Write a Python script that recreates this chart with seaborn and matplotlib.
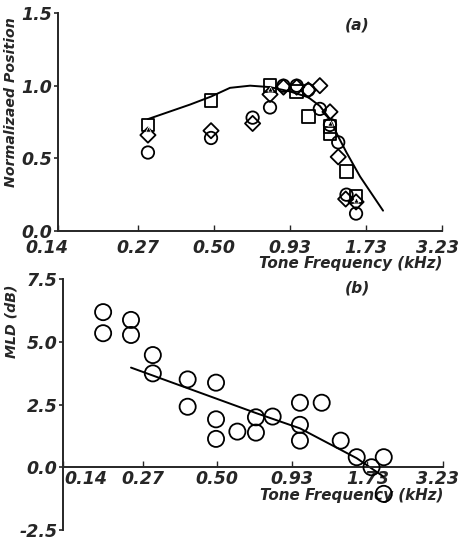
import os
import pandas as pd
import numpy as np
import seaborn as sns
import matplotlib
import matplotlib.pyplot as plt
from matplotlib import transforms
from matplotlib.font_manager import FontProperties

# panel (a) - normalized position vs tone frequency
circle_freq = [0.292, 0.489, 0.687, 0.792, 0.884, 0.985, 1.083, 1.19, 1.293, 1.383, 1.48, 1.60]
circle_pos = [0.54, 0.64, 0.78, 0.85, 1.00, 1.00, 0.97, 0.84, 0.73, 0.61, 0.25, 0.12]
square_freq = [0.292, 0.489, 0.792, 0.985, 1.083, 1.293, 1.293, 1.48, 1.60]
square_pos = [0.73, 0.90, 1.00, 0.96, 0.79, 0.72, 0.67, 0.41, 0.24]
diamond_freq = [0.292, 0.489, 0.687, 0.792, 0.884, 0.985, 1.083, 1.19, 1.293, 1.383, 1.47, 1.60]
diamond_pos = [0.66, 0.69, 0.74, 0.94, 0.99, 0.99, 0.97, 1.00, 0.82, 0.51, 0.22, 0.20]
triangle_freq = [0.292, 0.792, 1.293, 1.60]
triangle_pos = [0.70, 0.98, 0.74, 0.21]
fit_a_freq = [0.292, 0.412, 0.489, 0.571, 0.673, 0.792, 0.933, 1.083, 1.19, 1.293, 1.383, 1.48, 1.653, 1.995]
fit_a_pos = [0.77, 0.87, 0.925, 0.985, 1.00, 0.99, 0.96, 0.92, 0.86, 0.77, 0.65, 0.54, 0.375, 0.14]

# panel (b) - MLD vs tone frequency
mld_freq = [0.195, 0.195, 0.2455, 0.2455, 0.294, 0.294, 0.392, 0.392, 0.4955, 0.4955, 0.4955, 0.591,
            0.689, 0.689, 0.791, 0.991, 0.991, 0.991, 1.186, 1.388, 1.584, 1.79, 1.98, 1.98]
mld_db = [6.18, 5.34, 5.87, 5.27, 4.47, 3.74, 3.50, 2.41, 3.37, 1.91, 1.13, 1.42,
          1.99, 1.38, 2.02, 2.57, 1.69, 1.06, 2.57, 1.06, 0.40, 0.0, 0.40, -1.06]
fit_b_freq = [0.2455, 0.693, 0.991, 1.584, 1.974]
fit_b_db = [3.97, 2.15, 1.55, 0.36, -0.37]

freq_ticks = [0.14, 0.27, 0.50, 0.93, 1.73, 3.23]
freq_labels = ["0.14", "0.27", "0.50", "0.93", "1.73", "3.23"]

sns.set_style("ticks")
plt.rcParams['font.family'] = ['DejaVu Sans']

# bold oblique font straight from matplotlib's own font folder
bo_path = os.path.join(matplotlib.get_data_path(), "fonts", "ttf", "DejaVuSans-BoldOblique.ttf")
def bold_obl(size):
    if os.path.exists(bo_path):
        return FontProperties(fname=bo_path, size=size)
    return FontProperties(family="DejaVu Sans", weight="bold", style="oblique", size=size)

fs = 12.5      # tick labels
tick_font = bold_obl(fs)
xlab_font = bold_obl(10.9)
ylab_font = bold_obl(10.2)

fig = plt.figure(figsize=(4.61, 5.42), dpi=100)
ax_a = fig.add_axes([58/461, 1-231/542, 384/461, 218/542])
ax_b = fig.add_axes([63/461, 1-530/542, 380/461, 251/542])

def open_markers(ax, x, y, marker, s, lw=1.3):
    sns.scatterplot(x=x, y=y, ax=ax, marker=marker, s=s, color="black", linewidth=lw, zorder=3)
    coll = ax.collections[-1]
    coll.set_facecolor("none")
    coll.set_edgecolor("black")

# ---- panel a
sns.lineplot(x=fit_a_freq, y=fit_a_pos, ax=ax_a, color="black", linewidth=1.4, estimator=None, sort=False)
open_markers(ax_a, circle_freq, circle_pos, "o", 80)
open_markers(ax_a, square_freq, square_pos, "s", 85)
open_markers(ax_a, diamond_freq, diamond_pos, "D", 60)
sns.scatterplot(x=triangle_freq, y=triangle_pos, ax=ax_a, marker="^", s=14, color="black", linewidth=0.5, zorder=4)

# ---- panel b
sns.lineplot(x=fit_b_freq, y=fit_b_db, ax=ax_b, color="black", linewidth=1.4, estimator=None, sort=False)
open_markers(ax_b, mld_freq, mld_db, "o", 135)

ax_a.set_ylim(0, 1.5)
ax_b.set_ylim(-2.5, 7.5)
ax_b.spines["bottom"].set_position(("data", 0))

for ax, yt, ylab, xpad in ((ax_a, [0.0, 0.5, 1.0, 1.5], "Normalizaed Position", 6),
                           (ax_b, [-2.5, 0.0, 2.5, 5.0, 7.5], "MLD (dB)", 2)):
    ax.set_xscale("log")
    ax.set_xlim(0.14, 3.23)
    ax.minorticks_off()
    ax.spines["top"].set_visible(False)
    ax.spines["right"].set_visible(False)
    ax.spines["left"].set_linewidth(1.4)
    ax.spines["bottom"].set_linewidth(1.4)
    ax.tick_params(axis="y", direction="out", length=3, width=1.2, pad=1)
    ax.tick_params(axis="x", direction="in", length=4, width=1.0, pad=xpad)
    ax.set_xticks(freq_ticks)
    ax.set_xticklabels(freq_labels, fontproperties=tick_font)
    ax.set_yticks(yt)
    ax.set_yticklabels([f"{v:.1f}" for v in yt], fontproperties=tick_font)
    ax.patch.set_alpha(0)
    ax.set_xlabel("Tone Frequency (kHz)", loc="right", fontproperties=xlab_font)
    ax.set_ylabel(ylab, fontproperties=ylab_font)

def shift(lab, dx):
    lab.set_transform(lab.get_transform() + transforms.ScaledTranslation(dx/100, 0, fig.dpi_scale_trans))

# first / last tick labels are nudged like in the original figure
shift(ax_a.get_xticklabels()[0], -11)
shift(ax_a.get_xticklabels()[-1], -5)
shift(ax_b.get_xticklabels()[0], 23)
shift(ax_b.get_xticklabels()[-1], -5)

ax_a.xaxis.labelpad = -1
ax_b.xaxis.labelpad = 0
ax_a.yaxis.set_label_coords(-0.104, 0.59)
ax_b.yaxis.set_label_coords(-0.118, 0.833)
ax_a.text(0.779, 0.945, "(a)", transform=ax_a.transAxes, ha="center", va="center", fontproperties=bold_obl(11.2))
ax_b.text(0.774, 0.964, "(b)", transform=ax_b.transAxes, ha="center", va="center", fontproperties=bold_obl(11.2))

fig.savefig("out.png", dpi=100)
